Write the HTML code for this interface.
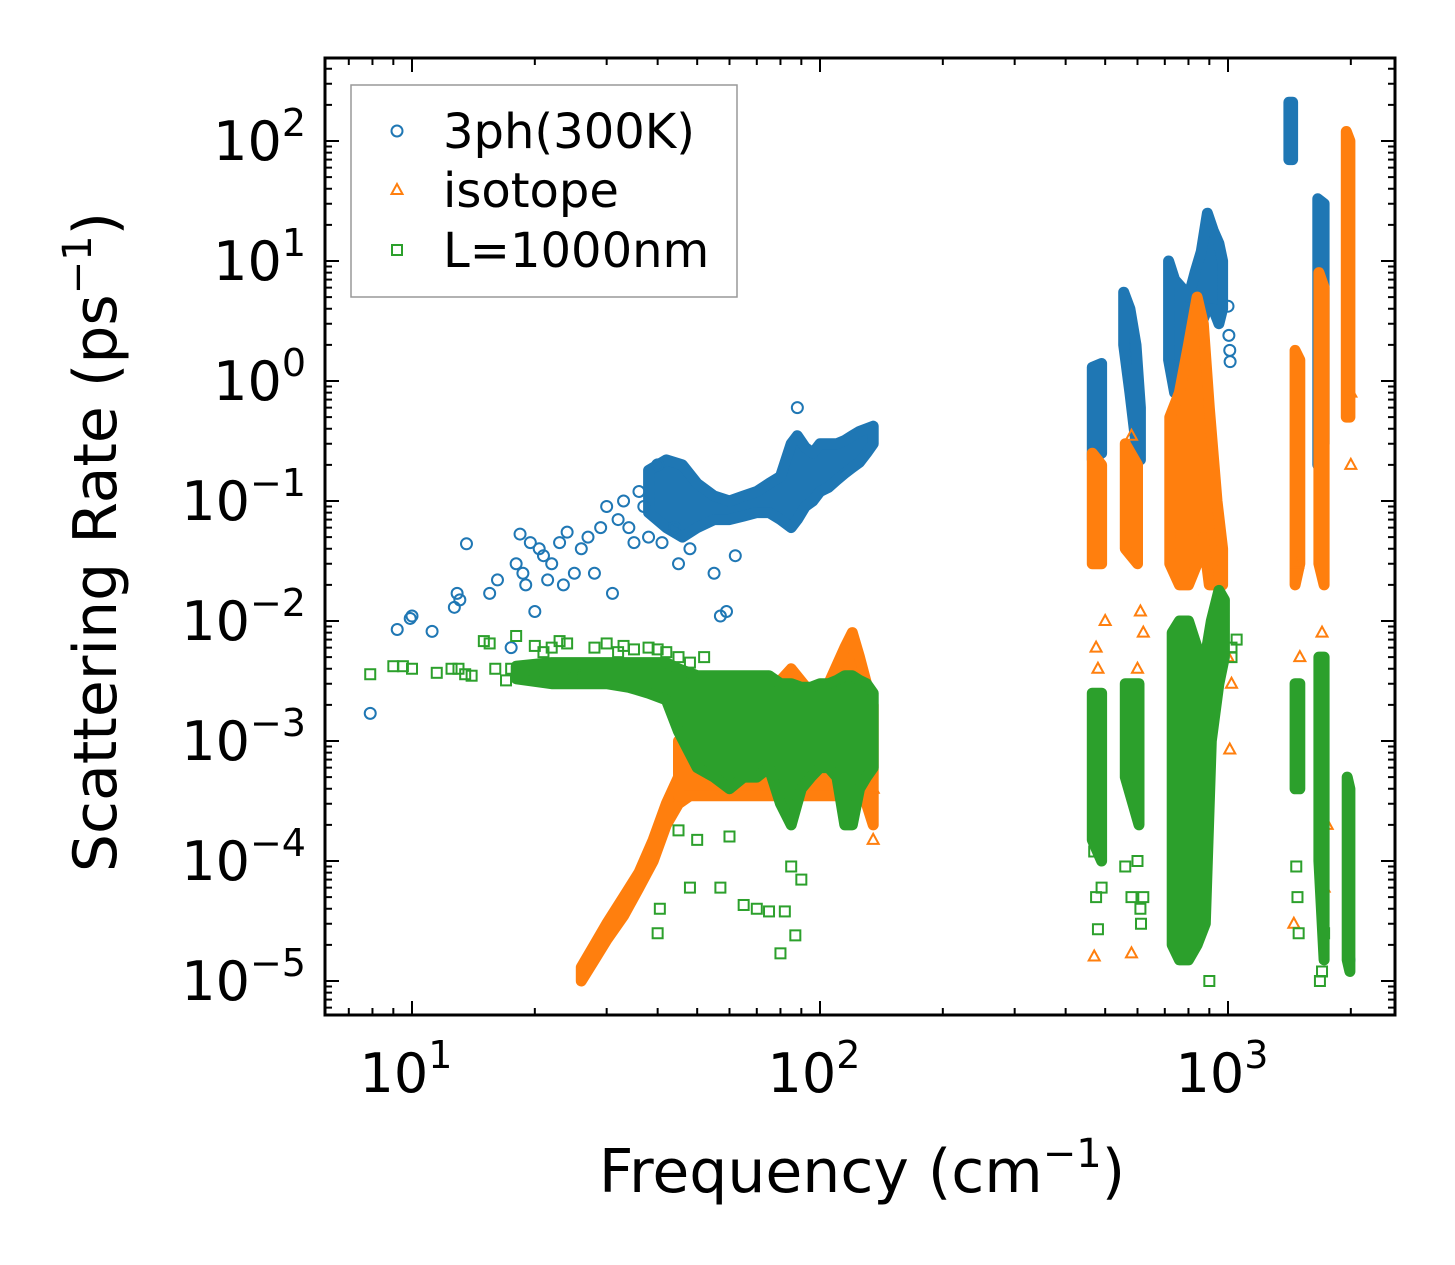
<!DOCTYPE html>
<html><head><meta charset="utf-8">
<style>
html,body{margin:0;padding:0;background:#fff;}
svg{display:block;font-family:"DejaVu Sans","Liberation Sans",sans-serif;}
</style></head>
<body>
<svg id="chart" width="1455" height="1265" viewBox="0 0 1455 1265" xmlns="http://www.w3.org/2000/svg">
<rect width="1455" height="1265" fill="#fff"/>
<g id="plot"></g>
<g id="axes"></g>
<text x="862" y="1192" font-size="60" text-anchor="middle">Frequency (cm<tspan font-size="40" dy="-25">−1</tspan><tspan dy="25">)</tspan></text>
<text transform="translate(116,542) rotate(-90)" font-size="60" text-anchor="middle">Scattering Rate (ps<tspan font-size="40" dy="-25">−1</tspan><tspan dy="25">)</tspan></text>
<g id="legend"></g>
</svg>
<script>
// ---- data ----
const xTickExps = [1, 2, 3];
const yTickExps = [2, 1, 0, -1, -2, -3, -4, -5];
const seriesNames = ["3ph(300K)", "isotope", "L=1000nm"];
const seriesColors = ["#1f77b4", "#ff7f0e", "#2ca02c"];

const bluePoints = [[7.9,0.0017],[9.2,0.0085],[9.9,0.0105],[10,0.011],[11.2,0.0082],[12.7,0.013],[12.9,0.017],[13.1,0.015],[13.6,0.044],[15.5,0.017],[16.2,0.022],[17.5,0.006],[18,0.03],[18.4,0.053],[18.7,0.025],[19,0.02],[19.5,0.045],[20,0.012],[20.5,0.04],[21,0.035],[21.5,0.022],[22,0.03],[23,0.045],[23.5,0.02],[24,0.055],[25,0.025],[26,0.04],[27,0.05],[28,0.025],[29,0.06],[30,0.09],[31,0.017],[32,0.07],[33,0.1],[34,0.06],[35,0.045],[36,0.12],[37,0.09],[38,0.05],[40,0.2],[41,0.045],[44,0.06],[45,0.03],[48,0.04],[55,0.025],[57,0.011],[59,0.012],[62,0.035],[88,0.6],[1000,4.2],[1005,2.4],[1010,1.8],[1012,1.45],[1980,1.5e-5]];
const blueRegionF = [[38,42,46,50,55,60,65,70,75,80,85,88,92,96,100,105,110,115,120,125,130,135],[465,490],[555,575,595,610],[715,740,770,800,830,860,890,920,950,970],[1410,1440],[1660,1720]];
const blueRegionLo = [[0.08,0.06,0.05,0.06,0.07,0.07,0.075,0.08,0.08,0.07,0.06,0.07,0.09,0.1,0.12,0.13,0.15,0.17,0.19,0.21,0.25,0.3],[0.22,0.25],[2,0.8,0.3,0.22],[1.5,0.8,1,0.5,2,3,4,4,3,4],[70,70],[0.2,0.3]];
const blueRegionHi = [[0.18,0.22,0.2,0.14,0.11,0.1,0.11,0.12,0.14,0.16,0.3,0.35,0.28,0.25,0.3,0.3,0.3,0.32,0.35,0.38,0.4,0.42],[1.3,1.4],[5.5,4,2,0.6],[10,7,6,5,8,12,25,18,14,10],[210,210],[33,30]];

const orangePoints = [[1010,8.5e-4],[1020,0.003],[1000,0.005],[470,1.6e-5],[580,1.7e-5],[480,4e-3],[500,0.01],[610,0.012],[620,0.008],[740,0.004],[760,0.005],[1700,0.008],[1500,5e-3],[1480,0.03],[1700,1e-3],[1750,2e-4],[2000,0.2],[2000,0.8],[1450,3e-5],[1720,6e-5],[580,0.35],[475,0.006],[600,0.004],[135,1.5e-4],[135,4e-4]];
const orangeRegionF = [[26,28,30,33,36,39,42,45,48],[45,55,65,75,85,95,105,115,120,125,130,135],[465,490],[560,600],[720,760,800,840,870,900,940,970],[1460,1500],[1670,1720],[1950,1990]];
const orangeRegionLo = [[1e-5,1.5e-5,2.2e-5,3.5e-5,6e-5,1e-4,2e-4,3e-4,3.5e-4],[3.5e-4,3.5e-4,3.5e-4,3.5e-4,3.5e-4,3.5e-4,3.5e-4,3.5e-4,4e-4,4e-4,3e-4,2e-4],[0.03,0.03],[0.04,0.03],[0.03,0.02,0.02,0.03,0.05,0.02,0.02,0.02],[0.02,0.03],[0.03,0.02],[0.5,0.5]];
const orangeRegionHi = [[1.3e-5,2e-5,3e-5,5e-5,8e-5,1.5e-4,3e-4,5e-4,7e-4],[1e-3,1.5e-3,2e-3,2.5e-3,4e-3,2.5e-3,3e-3,6e-3,8e-3,5e-3,3e-3,2e-3],[0.25,0.2],[0.3,0.2],[0.5,0.8,2,5,3,0.6,0.1,0.04],[1.8,1.5],[8,6],[120,100]];

const greenPoints = [[7.9,0.0036],[9,0.0042],[9.5,0.0042],[10,0.004],[11.5,0.0037],[12.5,0.004],[13,0.004],[13.5,0.0036],[14,0.0035],[15,0.0068],[15.5,0.0065],[16,0.004],[17,0.0032],[17.5,0.004],[18,0.0075],[19,0.0038],[20,0.0062],[21,0.0055],[22,0.006],[23,0.0068],[24,0.0065],[25,0.004],[26,0.0035],[28,0.006],[30,0.0065],[32,0.0055],[33,0.0062],[35,0.0058],[38,0.006],[40,0.0058],[42,0.0055],[45,0.005],[48,0.0045],[52,0.005],[40,2.5e-5],[40.5,4e-5],[48,6e-5],[57,6e-5],[60,1.6e-4],[65,4.3e-5],[70,4e-5],[75,3.8e-5],[80,1.7e-5],[82,3.8e-5],[87,2.4e-5],[85,9e-5],[90,7e-5],[45,1.8e-4],[50,1.5e-4],[470,1.2e-4],[475,5e-5],[480,2.7e-5],[490,6e-5],[560,9e-5],[580,5e-5],[600,1e-4],[610,4e-5],[612,3e-5],[620,5e-5],[1470,9e-5],[1480,5e-5],[1490,2.5e-5],[1680,1e-5],[1700,1.2e-5],[1720,2.5e-5],[1050,7e-3],[1020,6e-3],[1020,5e-3],[900,1e-5]];
const greenRegionF = [[18,22,26,30,34,38,42,45,50,55,60,65,70,75,80,85,90,95,100,105,110,115,120,125,130,135],[465,490],[560,605],[730,760,800,840,880,910,950,980],[1460,1500],[1670,1720],[1960,1990]];
const greenRegionLo = [[0.0033,0.003,0.003,0.003,0.0028,0.0025,0.0022,0.0012,0.0006,0.0005,0.0004,0.0005,0.0005,0.0006,0.0003,0.0002,0.0004,0.0005,0.0006,0.0006,0.0005,0.0002,0.0002,0.0004,0.0005,0.0006],[1.5e-4,1e-4],[5e-4,2e-4],[2e-5,1.5e-5,1.5e-5,2e-5,3e-5,1e-3,3e-3,5e-3],[4e-4,4e-4],[1e-4,1.5e-5],[1.5e-5,1.2e-5]];
const greenRegionHi = [[0.0042,0.0045,0.0045,0.0045,0.0045,0.0045,0.0045,0.004,0.0035,0.0035,0.0035,0.0035,0.0035,0.0035,0.003,0.003,0.0028,0.0028,0.003,0.003,0.0032,0.0035,0.0035,0.0032,0.003,0.0025],[2.5e-3,2.5e-3],[3e-3,3e-3],[8e-3,1e-2,1e-2,6e-3,5e-3,0.01,0.018,0.015],[3e-3,3e-3],[5e-3,5e-3],[5e-4,4e-4]];

// ---- axes ----
const L=325,R=1395,T=58,B=1015;
const X0=412, XD=408, Y0=981, YD=120;
const xs = f => X0 + (Math.log10(f)-1)*XD;
const ys = v => Y0 - (Math.log10(v)+5)*YD;
const NS="http://www.w3.org/2000/svg";
function mk(tag, attrs, parent){const e=document.createElementNS(NS,tag);for(const k in attrs)e.setAttribute(k,attrs[k]);parent.appendChild(e);return e;}
const plot=document.getElementById('plot'), axes=document.getElementById('axes'), legend=document.getElementById('legend');
mk('clipPath',{id:'clip'},plot).appendChild(document.createElementNS(NS,'rect'));
const cr=plot.querySelector('#clip rect');cr.setAttribute('x',L);cr.setAttribute('y',T);cr.setAttribute('width',R-L);cr.setAttribute('height',B-T);

function marker(kind,x,y,color,parent){
  let m;
  if(kind===0) m=mk('circle',{cx:x,cy:y,r:5.5,fill:'none',stroke:color,'stroke-width':2},parent);
  else if(kind===1) m=mk('polygon',{points:`${x},${y-6} ${x+5.5},${y+4} ${x-5.5},${y+4}`,fill:'none',stroke:color,'stroke-width':2},parent);
  else m=mk('rect',{x:x-5,y:y-5,width:10,height:10,fill:'none',stroke:color,'stroke-width':2},parent);
  return m;
}
function drawSeries(idx,points,rf,rlo,rhi){
  const g=mk('g',{'clip-path':'url(#clip)'},plot);
  
  
  const c=seriesColors[idx];
  rf.forEach((fa,i)=>{
    let d='M'+fa.map((f,j)=>xs(f).toFixed(1)+','+ys(rhi[i][j]).toFixed(1)).join(' L');
    for(let j=fa.length-1;j>=0;j--) d+=' L'+xs(fa[j]).toFixed(1)+','+ys(rlo[i][j]).toFixed(1);
    d+=' Z';
    const p=mk('path',{d:d,fill:c,stroke:c,'stroke-width':11,'stroke-linejoin':'round'},g);
    
    
  });
  points.forEach(pt=>{
    const m=marker(idx,xs(pt[0]),ys(pt[1]),c,g);
    
    
  });
}
drawSeries(0,bluePoints,blueRegionF,blueRegionLo,blueRegionHi);
drawSeries(1,orangePoints,orangeRegionF,orangeRegionLo,orangeRegionHi);
drawSeries(2,greenPoints,greenRegionF,greenRegionLo,greenRegionHi);

const fr=mk('rect',{x:L,y:T,width:R-L,height:B-T,fill:'none',stroke:'#000','stroke-width':3},axes);


for(let e=0;e<=3;e++){for(let k=1;k<10;k++){const f=k*Math.pow(10,e);const x=xs(f);if(x<L||x>R)continue;const len=k===1?14:7;
  mk('line',{x1:x,y1:B,x2:x,y2:B-len,stroke:'#000','stroke-width':2},axes);
  mk('line',{x1:x,y1:T,x2:x,y2:T+len,stroke:'#000','stroke-width':2},axes);}}
xTickExps.forEach(e=>{const t=mk('text',{x:xs(Math.pow(10,e))-6,y:1092,'font-size':54,'text-anchor':'middle'},axes);
  
  
  t.innerHTML='10<tspan font-size="38" dy="-24">'+e+'</tspan>';});
for(let e=-6;e<=2;e++){for(let k=1;k<10;k++){const v=k*Math.pow(10,e);const y=ys(v);if(y<T||y>B)continue;const len=k===1?14:7;
  mk('line',{x1:L,y1:y,x2:L+len,y2:y,stroke:'#000','stroke-width':2},axes);
  mk('line',{x1:R,y1:y,x2:R-len,y2:y,stroke:'#000','stroke-width':2},axes);}}
yTickExps.forEach(e=>{const t=mk('text',{x:306,y:ys(Math.pow(10,e))+19,'font-size':54,'text-anchor':'end'},axes);
  
  
  t.innerHTML='10<tspan font-size="38" dy="-24">'+(e<0?'−'+(-e):e)+'</tspan>';});

mk('rect',{x:351,y:85,width:386,height:212,fill:'#fff',stroke:'#999','stroke-width':1.5},legend);
const ly=[131,190,250];
seriesNames.forEach((n,i)=>{
  const m=marker(i,397,ly[i],seriesColors[i],legend);
  
  
  const t=mk('text',{x:443,y:ly[i]+17,'font-size':48},legend);
  
  
  t.textContent=n;
});
</script>
</body></html>
